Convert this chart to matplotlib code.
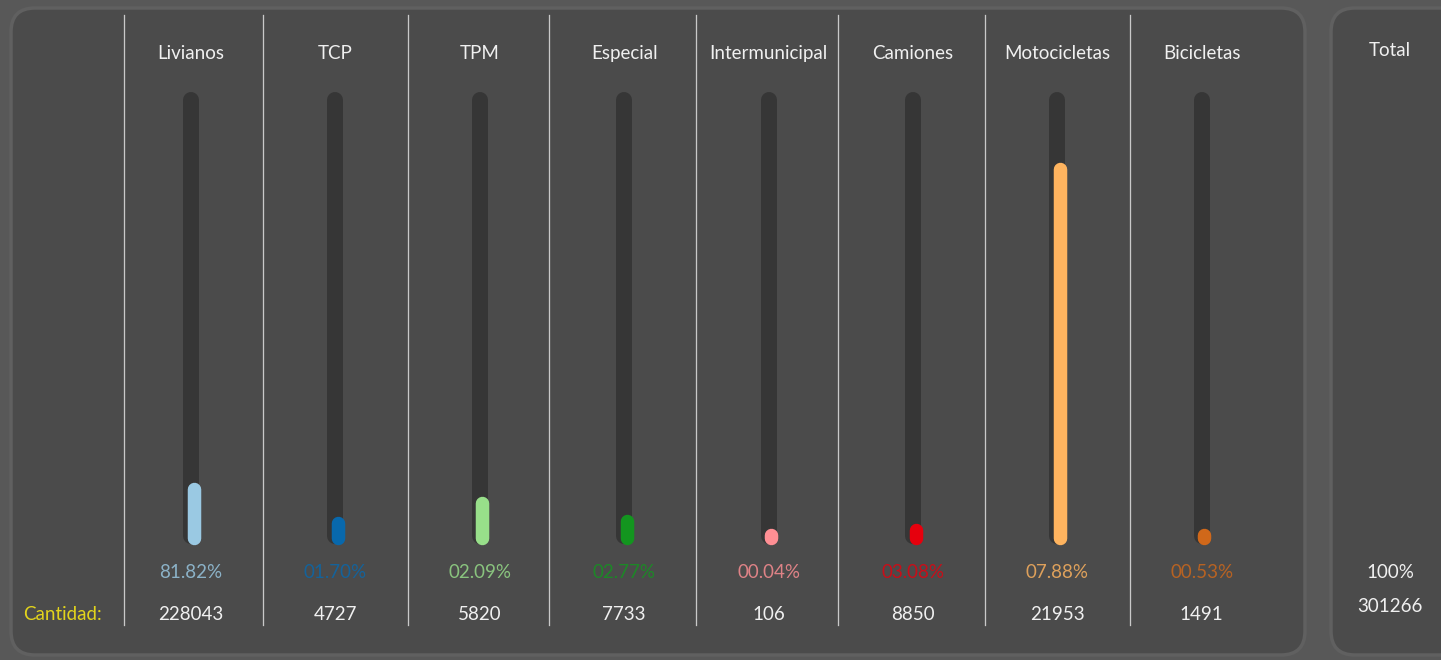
import matplotlib.pyplot as plt
from matplotlib.patches import FancyBboxPatch

plt.rcParams['font.family'] = ['Lato', 'DejaVu Sans']

# datos del tablero
categorias = ["Livianos", "TCP", "TPM", "Especial", "Intermunicipal",
              "Camiones", "Motocicletas", "Bicicletas"]
porcentajes = ["81.82%", "01.70%", "02.09%", "02.77%", "00.04%",
               "03.08%", "07.88%", "00.53%"]
cantidades = [228043, 4727, 5820, 7733, 106, 8850, 21953, 1491]
# altura del relleno de cada barra (% del recorrido)
relleno = [13.5, 6.0, 10.6, 6.6, 3.5, 4.6, 84.3, 3.5]
colores = ['#9ac9e3', '#0868ac', '#98df8a', '#13951f', '#ff8f94',
           '#e6000d', '#ffb45f', '#d0681a']
total_pct = "100%"
total_cant = 301266

W, H = 1441, 660
fig = plt.figure(figsize=(W / 100, H / 100), dpi=100)
fig.patch.set_facecolor('#585858')

# fondo: paneles redondeados en pixeles
bg = fig.add_axes([0, 0, 1, 1])
bg.set_xlim(0, W)
bg.set_ylim(H, 0)
bg.axis('off')
bg.add_patch(FancyBboxPatch((11, 8), 1294, 647, boxstyle="round,pad=0,rounding_size=24",
                            fc='#4b4b4b', ec='#606060', lw=2.5))
bg.add_patch(FancyBboxPatch((1331, 8), 160, 647, boxstyle="round,pad=0,rounding_size=24",
                            fc='#4b4b4b', ec='#606060', lw=2.5))

# ejes de datos: x = indice de categoria, y = % del recorrido
px_x = 144.4   # pixeles por categoria
px_y = 4.52    # pixeles por unidad de y
x0, y0 = 191, 544
ax = fig.add_axes([0, 0, 1, 1])
ax.patch.set_alpha(0)
ax.set_xlim(-x0 / px_x, (W - x0) / px_x)
ax.set_ylim(-(H - y0) / px_y, y0 / px_y)
ax.axis('off')

def py(p):  # pixel vertical -> unidad y
    return (y0 - p) / px_y

pt = 0.72  # puntos por pixel
r_track = 8 / px_y
r_fill = 6.5 / px_y
fs = 13.5

for i, cat in enumerate(categorias):
    # separador
    xs = i - 0.5 + (0.035 if i == 0 else -0.02 if i in (3, 5) else 0)
    ax.plot([xs, xs], [py(15), py(625)], color='#c9c9c9', lw=1.3 * pt)
    # recorrido
    ax.plot([i, i], [r_track, 100 - r_track], color='#363636', lw=16 * pt,
            solid_capstyle='round')
    # relleno
    xf = i + 2.5 / px_x
    ax.plot([xf, xf], [r_fill - 0.2, relleno[i] - r_fill], color=colores[i], lw=13.5 * pt,
            solid_capstyle='round')
    ax.text(i, py(54), cat, color='#f0f0f0', fontsize=fs, ha='center', va='center')
    ax.text(i, py(572), porcentajes[i], color=colores[i], alpha=0.82, fontsize=fs,
            ha='center', va='center')
    ax.text(i, py(615), str(cantidades[i]), color='#f0f0f0', fontsize=fs,
            ha='center', va='center')

ax.text((62 - x0) / px_x, py(615), "Cantidad:", color='#e2d41c', fontsize=fs,
        ha='center', va='center')

xt = (1390 - x0) / px_x
ax.text(xt, py(51), "Total", color='#f0f0f0', fontsize=fs, ha='center', va='center')
ax.text(xt, py(572), total_pct, color='#f0f0f0', fontsize=fs, ha='center', va='center')
ax.text(xt, py(607), str(total_cant), color='#f0f0f0', fontsize=fs, ha='center', va='center')

plt.savefig("out.png", dpi=100, facecolor=fig.get_facecolor())
